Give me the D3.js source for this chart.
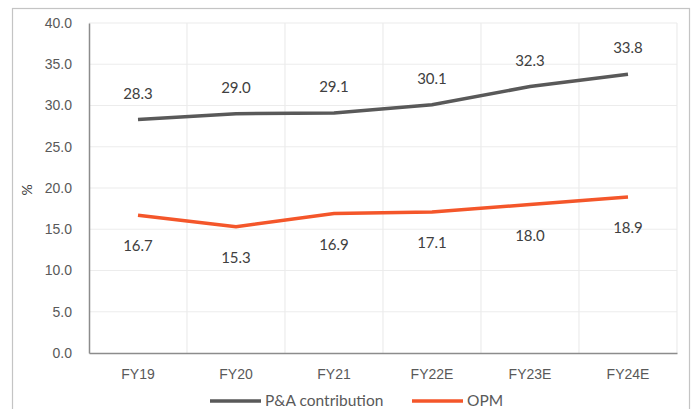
<!DOCTYPE html>
<html>
<head>
<meta charset="utf-8">
<style>
    body { margin: 0; background: #fff; }
    svg { font-family: 'Lato', 'Open Sans', sans-serif; }
</style>
</head>
<body>
<svg width="693" height="409"></svg>
<script src="https://d3js.org/d3.v7.min.js"></script>
<script>
    // chart data
    let years = ["FY19", "FY20", "FY21", "FY22E", "FY23E", "FY24E"]
    let paContribution = [28.3, 29.0, 29.1, 30.1, 32.3, 33.8]
    let opm = [16.7, 15.3, 16.9, 17.1, 18.0, 18.9]
    let yTicks = [0, 5, 10, 15, 20, 25, 30, 35, 40]

    let svg = d3.select("svg")

    // outer frame
    svg.append("rect")
        .attr("x", 12.5).attr("y", 8.5)
        .attr("width", 677).attr("height", 420)
        .style("fill", "none")
        .style("stroke", "#c4c4c4")
        .style("stroke-width", 1.2)

    let plotLeft = 89, plotRight = 677, plotTop = 23, plotBottom = 353

    let x = d3.scaleBand().domain(years).range([plotLeft, plotRight])
    let y = d3.scaleLinear().domain([0, 40]).range([plotBottom, plotTop])

    // gridlines
    svg.append("g")
        .selectAll("line")
        .data(yTicks.slice(1))
        .join("line")
        .attr("x1", plotLeft).attr("x2", plotRight)
        .attr("y1", d => y(d)).attr("y2", d => y(d))
        .style("stroke", "#ececec").style("stroke-width", 1.2)

    svg.append("g")
        .selectAll("line")
        .data(years)
        .join("line")
        .attr("x1", d => x(d) + x.bandwidth()).attr("x2", d => x(d) + x.bandwidth())
        .attr("y1", plotTop).attr("y2", plotBottom)
        .style("stroke", "#ececec").style("stroke-width", 1.2)

    // axes
    let yAxis = svg.append("g")
        .attr("transform", `translate(${plotLeft},0)`)
        .call(d3.axisLeft(y).tickValues(yTicks).tickFormat(d3.format(".1f")).tickSize(0).tickPadding(17))
    yAxis.select(".domain").style("stroke", "#8c8c8c").style("stroke-width", 1.5)
    yAxis.selectAll("text").style("font-size", "14px").style("fill", "#595959")

    let xAxis = svg.append("g")
        .attr("transform", `translate(0,${plotBottom})`)
        .call(d3.axisBottom(x).tickSize(0).tickPadding(16))
    xAxis.select(".domain").style("stroke", "#8c8c8c").style("stroke-width", 1.5)
    xAxis.selectAll("text").style("font-size", "14px").style("fill", "#595959")

    // y title
    svg.append("text")
        .attr("transform", "translate(32,190) rotate(-90)")
        .attr("text-anchor", "middle")
        .style("font-size", "14px")
        .style("fill", "#404040")
        .text("%")

    let cx = d => x(d) + x.bandwidth() / 2

    let line = d3.line()
        .x((d, i) => cx(years[i]))
        .y(d => y(d))

    svg.append("path")
        .datum(paContribution)
        .attr("d", line)
        .style("fill", "none")
        .style("stroke", "#595959")
        .style("stroke-width", 3.5)

    svg.append("path")
        .datum(opm)
        .attr("d", line)
        .style("fill", "none")
        .style("stroke", "#f4562a")
        .style("stroke-width", 3.5)

    // data labels
    svg.append("g")
        .selectAll("text")
        .data(paContribution)
        .join("text")
        .attr("x", (d, i) => cx(years[i]))
        .attr("y", d => y(d) - 21)
        .attr("text-anchor", "middle")
        .style("font-size", "15px")
        .style("fill", "#404040")
        .text(d => d.toFixed(1))

    svg.append("g")
        .selectAll("text")
        .data(opm)
        .join("text")
        .attr("x", (d, i) => cx(years[i]))
        .attr("y", d => y(d) + 36)
        .attr("text-anchor", "middle")
        .style("font-size", "15px")
        .style("fill", "#404040")
        .text(d => d.toFixed(1))

    // legend
    let legend = [
        { name: "P&A contribution", color: "#595959", x: 210 },
        { name: "OPM", color: "#f4562a", x: 412 }
    ]
    let lg = svg.append("g")
        .selectAll("g")
        .data(legend)
        .join("g")
        .attr("transform", d => `translate(${d.x},401)`)
    lg.append("line")
        .attr("x1", 0).attr("x2", 51)
        .style("stroke", d => d.color)
        .style("stroke-width", 3.5)
    lg.append("text")
        .attr("x", 55).attr("dy", "0.35em")
        .style("font-size", "15.5px")
        .style("fill", "#595959")
        .text(d => d.name)
</script>
</body>
</html>
